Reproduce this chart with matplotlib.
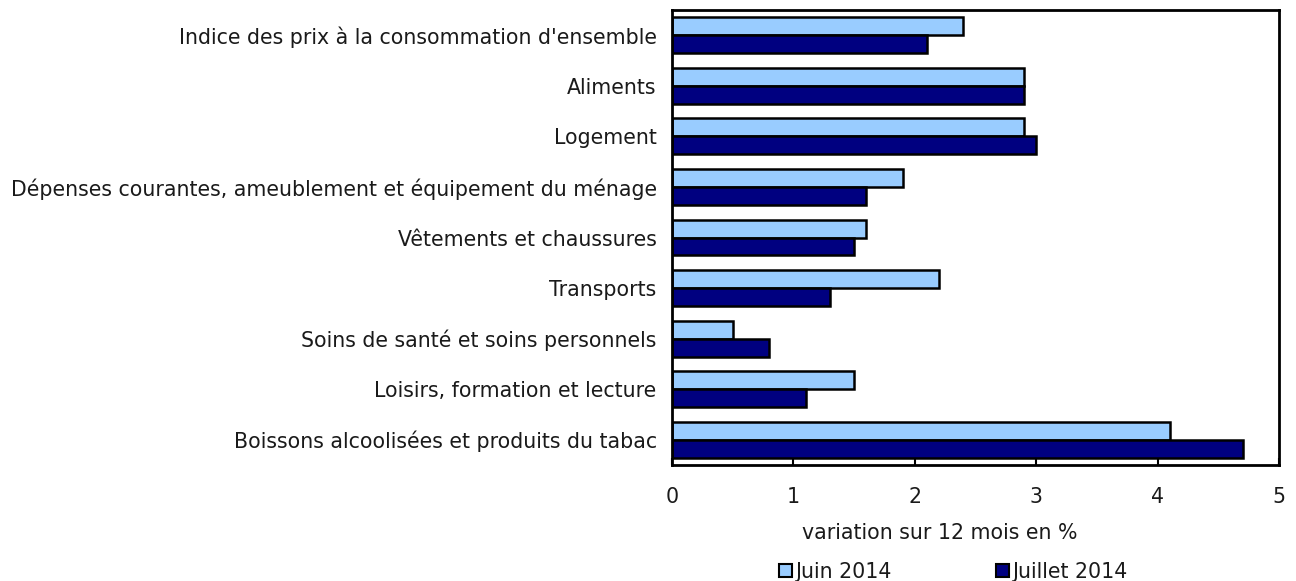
import matplotlib.pyplot as plt
from matplotlib.patches import Patch
import numpy as np

categories = [
    "Indice des prix à la consommation d'ensemble",
    "Aliments",
    "Logement",
    "Dépenses courantes, ameublement et équipement du ménage",
    "Vêtements et chaussures",
    "Transports",
    "Soins de santé et soins personnels",
    "Loisirs, formation et lecture",
    "Boissons alcoolisées et produits du tabac",
]
juin_2014 = [2.4, 2.9, 2.9, 1.9, 1.6, 2.2, 0.5, 1.5, 4.1]
juillet_2014 = [2.1, 2.9, 3.0, 1.6, 1.5, 1.3, 0.8, 1.1, 4.7]
series_names = ["Juin 2014", "Juillet 2014"]
colors = ["#99CCFF", "#000080"]
xticks = [0, 1, 2, 3, 4, 5]

plt.rcParams['font.family'] = ['DejaVu Sans']
fs = 14.8

fig = plt.figure(figsize=(12.96, 5.81), dpi=100)
ax = fig.add_axes([672 / 1296, 1 - 465 / 581, (1279 - 672) / 1296, (465 - 10) / 581])

y = np.arange(len(categories))
h = 0.356
ax.barh(y - h / 2, juin_2014, height=h, color=colors[0], edgecolor="black", linewidth=1.8)
ax.barh(y + h / 2, juillet_2014, height=h, color=colors[1], edgecolor="black", linewidth=1.8)

ax.set_ylim(len(categories) - 0.5, -0.5)
ax.set_xlim(0, 5)
ax.set_yticks(y)
ax.set_yticklabels(categories, fontsize=fs, color="#1a1a1a")
ax.set_xticks(xticks)
ax.set_xticklabels([str(t) for t in xticks], fontsize=fs, color="#1a1a1a")
ax.tick_params(axis="y", length=0, pad=11)
ax.tick_params(axis="x", direction="in", length=5, width=1.5, pad=16)
for s in ax.spines.values():
    s.set_linewidth(2)

fig.text(940 / 1296, 1 - 533 / 581, "variation sur 12 mois en %", fontsize=fs,
         ha="center", va="center", color="#1a1a1a")

handles = [Patch(facecolor=c, edgecolor="black", linewidth=1.5) for c in colors]
fig.legend(handles, series_names, loc="center left", bbox_to_anchor=(779 / 1296, 1 - 572 / 581),
           ncol=2, frameon=False, fontsize=fs, handlelength=0.62, handleheight=0.62,
           handletextpad=0.15, columnspacing=5.1, borderpad=0, borderaxespad=0,
           labelcolor="#1a1a1a")

fig.savefig("out.png", dpi=100)
